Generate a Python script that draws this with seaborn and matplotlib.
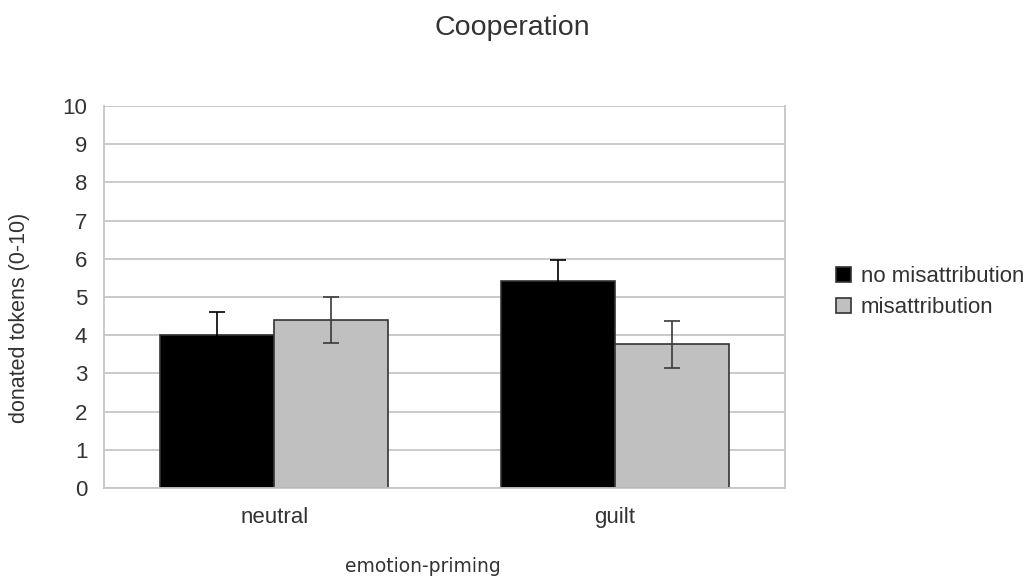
import numpy as np
import pandas as pd
import matplotlib
matplotlib.use("Agg")
import matplotlib.pyplot as plt
import seaborn as sns

# данные
conditions = ["neutral", "guilt"]
groups = ["no misattribution", "misattribution"]
no_misattr = [4.0, 5.42]
misattr = [4.4, 3.76]
no_misattr_err = [0.6, 0.56]
misattr_err = [0.61, 0.62]
y_ticks = list(range(0, 11))

df = pd.DataFrame({
    "emotion": conditions * 2,
    "group": [groups[0]] * 2 + [groups[1]] * 2,
    "tokens": no_misattr + misattr,
    "err": no_misattr_err + misattr_err,
})

sns.set_style("white")
plt.rcParams["font.family"] = ["Liberation Sans", "DejaVu Sans"]

grid_c = "#c6c6c6"
text_c = "#333333"

fig = plt.figure(figsize=(10.32, 5.78), dpi=100)
ax = fig.add_axes([0.1008, 0.1557, 0.6599, 0.6609])

sns.barplot(data=df, x="emotion", y="tokens", hue="group", order=conditions,
            hue_order=groups, palette=["#000000", "#c0c0c0"], width=0.67,
            gap=0, errorbar=None, edgecolor="#333333", linewidth=1.2,
            ax=ax, zorder=2)

# планки погрешностей по центрам столбцов
for cont, g, ec in zip(ax.containers, groups, ["#000000", "#3a3a3a"]):
    sub = df[df["group"] == g].set_index("emotion").loc[conditions]
    xs = [p.get_x() + p.get_width() / 2 for p in cont.patches]
    ax.errorbar(xs, sub["tokens"], yerr=sub["err"], fmt="none",
                ecolor=ec, elinewidth=1.2, capsize=6, capthick=1.2,
                zorder=3)

ax.set_xlim(-0.5, 1.5)
ax.set_ylim(0, 10)
ax.set_yticks(y_ticks)
ax.yaxis.grid(True, color=grid_c, linewidth=1.3, zorder=0)
ax.set_axisbelow(True)

for side in ["left", "right", "top", "bottom"]:
    ax.spines[side].set_color(grid_c)
    ax.spines[side].set_linewidth(1.3)
ax.spines["top"].set_visible(False)

ax.tick_params(axis="y", length=8, width=1.3, color=grid_c, pad=4,
               labelsize=16, labelcolor=text_c)
ax.tick_params(axis="x", which="major", length=0, pad=14,
               labelsize=16, labelcolor=text_c)
ax.set_xticks([-0.5, 0.5, 1.5], minor=True)
ax.tick_params(axis="x", which="minor", length=8, width=1.3, color=grid_c)

ax.set_xlabel("emotion-priming", fontsize=13.5, color=text_c,
              family="DejaVu Sans")
ax.xaxis.set_label_coords(0.468, -0.18)
ax.set_ylabel("donated tokens (0-10)", fontsize=15.5, color=text_c)
ax.yaxis.set_label_coords(-0.108, 0.445)

handles, labels = ax.get_legend_handles_labels()
ax.legend(handles, labels, loc="center left", bbox_to_anchor=(1.075, 0.513),
          frameon=False, fontsize=16, handlelength=0.65, handleheight=0.65,
          handletextpad=0.45, labelspacing=0.45, borderpad=0, borderaxespad=0,
          labelcolor=text_c)

fig.text(0.496, 0.951, "Cooperation", ha="center", va="center",
         fontsize=20.5, color=text_c)

fig.savefig("out.png", dpi=100)
